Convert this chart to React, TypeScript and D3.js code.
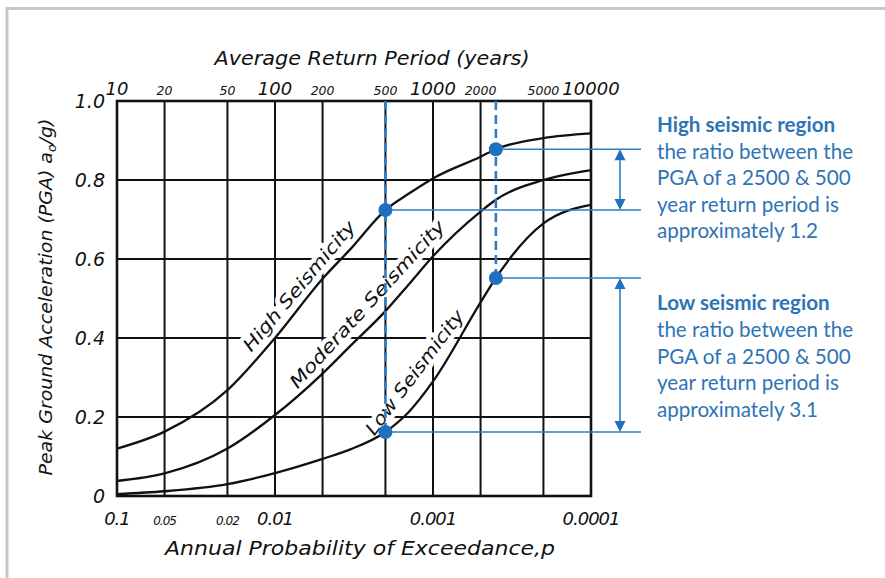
import React from "react";
import * as d3 from "d3";

// ---- data ----
const returnPeriods = [10, 20, 50, 100, 200, 300, 500, 700, 1000, 2000, 2500, 5000, 10000];
const highSeismicity = [0.12, 0.163, 0.268, 0.4, 0.55, 0.625, 0.724, 0.765, 0.804, 0.859, 0.878, 0.906, 0.918];
const moderateSeismicity = [0.038, 0.057, 0.12, 0.205, 0.31, 0.38, 0.468, 0.535, 0.607, 0.72, 0.75, 0.8, 0.825];
const lowSeismicity = [0.005, 0.012, 0.03, 0.058, 0.094, 0.118, 0.162, 0.212, 0.29, 0.49, 0.552, 0.69, 0.737];
const seriesNames = ["High Seismicity", "Moderate Seismicity", "Low Seismicity"];

const topTickValues = [10, 20, 50, 100, 200, 500, 1000, 2000, 5000, 10000];
const topTickLabels = ["10", "20", "50", "100", "200", "500", "1000", "2000", "5000", "10000"];
const gridReturnPeriods = [20, 50, 100, 200, 500, 1000, 2000, 5000];
const probTickValues = [0.1, 0.05, 0.02, 0.01, 0.001, 0.0001];
const probTickLabels = ["0.1", "0.05", "0.02", "0.01", "0.001", "0.0001"];
const pgaTickValues = [0, 0.2, 0.4, 0.6, 0.8, 1.0];
const pgaTickLabels = ["0", "0.2", "0.4", "0.6", "0.8", "1.0"];
const markerPeriods = [500, 2500];

const highNote = [
  "High seismic region",
  "the ratio between the",
  "PGA of a 2500 & 500",
  "year return period is",
  "approximately 1.2",
];
const lowNote = [
  "Low seismic region",
  "the ratio between the",
  "PGA of a 2500 & 500",
  "year return period is",
  "approximately 3.1",
];

// ---- layout ----
const W = 885;
const H = 578;
const plot = { left: 117, right: 591, top: 101, bottom: 496 };
const BLUE_LINE = "#2F7CC4";
const BLUE_DOT = "#1F70BF";
const BLUE_TEXT = "#2E74B5";
const INK = "#111";
const HAND = "'DejaVu Sans', sans-serif";

const labelPlacement = [
  { t: 142, v: 0.532, angle: -50, len: 164 },
  { t: 383, v: 0.486, angle: -47.5, len: 220 },
  { t: 764, v: 0.313, angle: -53, len: 151 },
];

export default function App() {
  const x = d3.scaleLog().domain([10, 10000]).range([plot.left, plot.right]);
  const xp = d3.scaleLog().domain([0.1, 0.0001]).range([plot.left, plot.right]);
  const y = d3.scaleLinear().domain([0, 1]).range([plot.bottom, plot.top]);

  const line = d3
    .line<number>()
    .x((_, i) => x(returnPeriods[i]))
    .y((d) => y(d))
    .curve(d3.curveMonotoneX);

  const series = [highSeismicity, moderateSeismicity, lowSeismicity];
  const valAt = (s: number[], t: number) => s[returnPeriods.indexOf(t)];

  const annX1 = 641;
  const arrowX = 620;

  const isBig = (lab: string) => /^10+$/.test(lab);

  const arrow = (y1: number, y2: number) => {
    const a = 11;
    const w = 5.5;
    return (
      <g>
        <line x1={arrowX} x2={arrowX} y1={y1 + a} y2={y2 - a} stroke={BLUE_LINE} strokeWidth={1.6} />
        <path d={`M${arrowX},${y1} L${arrowX - w},${y1 + a} L${arrowX + w},${y1 + a} Z`} fill={BLUE_DOT} />
        <path d={`M${arrowX},${y2} L${arrowX - w},${y2 - a} L${arrowX + w},${y2 - a} Z`} fill={BLUE_DOT} />
      </g>
    );
  };

  const hi500 = y(valAt(highSeismicity, 500));
  const hi2500 = y(valAt(highSeismicity, 2500));
  const lo500 = y(valAt(lowSeismicity, 500));
  const lo2500 = y(valAt(lowSeismicity, 2500));

  return (
    <div style={{ position: "absolute", left: 0, top: 0 }}>
      <svg width={W} height={H} style={{ display: "block", background: "#fff" }}>
        {/* page frame */}
        <line x1={6} x2={W} y1={8.5} y2={8.5} stroke="#c8c8c8" strokeWidth={3} />
        <line x1={7} x2={7} y1={7} y2={H} stroke="#c8c8c8" strokeWidth={3} />

        {/* grid */}
        {gridReturnPeriods.map((t) => (
          <line key={"gv" + t} x1={x(t)} x2={x(t)} y1={plot.top} y2={plot.bottom} stroke={INK} strokeWidth={2} />
        ))}
        {pgaTickValues
          .filter((v) => v > 0 && v < 1)
          .map((v) => (
            <line key={"gh" + v} x1={plot.left} x2={plot.right} y1={y(v)} y2={y(v)} stroke={INK} strokeWidth={2} />
          ))}

        {/* curve labels with white halo (interrupts grid) */}
        {seriesNames.map((name, i) => {
          const p = labelPlacement[i];
          return (
            <text
              key={name}
              transform={`translate(${x(p.t)},${y(p.v)}) rotate(${p.angle})`}
              textAnchor="middle"
              dy="0.35em"
              fontFamily={HAND}
              fontStyle="italic"
              fontSize={18}
              textLength={p.len}
              lengthAdjust="spacingAndGlyphs"
              fill={INK}
              stroke="#fff"
              strokeWidth={9}
              paintOrder="stroke"
              strokeLinejoin="round"
            >
              {name}
            </text>
          );
        })}

        {/* curves */}
        {series.map((s, i) => (
          <path key={"c" + i} d={line(s) || ""} fill="none" stroke={INK} strokeWidth={2.3} />
        ))}

        {/* frame */}
        <rect
          x={plot.left}
          y={plot.top}
          width={plot.right - plot.left}
          height={plot.bottom - plot.top}
          fill="none"
          stroke={INK}
          strokeWidth={2.6}
        />

        {/* top axis */}
        {topTickValues.map((t, i) => (
          <text
            key={"tt" + t}
            x={x(t)}
            y={95}
            textAnchor="middle"
            fontFamily={HAND}
            fontStyle="italic"
            fontSize={isBig(topTickLabels[i]) ? 18 : 12.5}
            fill={INK}
          >
            {topTickLabels[i]}
          </text>
        ))}
        <text x={372} y={65} textAnchor="middle" fontFamily={HAND} fontStyle="italic" fontSize={19} textLength={315} lengthAdjust="spacingAndGlyphs" fill={INK}>
          Average Return Period (years)
        </text>

        {/* bottom axis */}
        {probTickValues.map((p, i) => (
          <text
            key={"bt" + p}
            x={xp(p)}
            y={525}
            textAnchor="middle"
            fontFamily={HAND}
            fontStyle="italic"
            fontSize={probTickLabels[i].length === 4 && p > 0.01 ? 12 : 18}
            fill={INK}
            letterSpacing={-1}
          >
            {probTickLabels[i]}
          </text>
        ))}
        <text x={360} y={555} textAnchor="middle" fontFamily={HAND} fontStyle="italic" fontSize={19} textLength={390} lengthAdjust="spacingAndGlyphs" fill={INK}>
          Annual Probability of Exceedance,p
        </text>

        {/* left axis */}
        {pgaTickValues.map((v, i) => (
          <text
            key={"yl" + v}
            x={105}
            y={y(v) + 7}
            textAnchor="end"
            fontFamily={HAND}
            fontStyle="italic"
            fontSize={19}
            fill={INK}
          >
            {pgaTickLabels[i]}
          </text>
        ))}
        <text
          transform={`translate(52,${297}) rotate(-90)`}
          textAnchor="middle"
          fontFamily={HAND}
          fontStyle="italic"
          fontSize={18}
          textLength={357}
          lengthAdjust="spacingAndGlyphs"
          fill={INK}
        >
          Peak Ground Acceleration (PGA) a<tspan fontSize={12} dy={4}>o</tspan>
          <tspan dy={-4}>/g)</tspan>
        </text>

        {/* blue annotation: dashed verticals */}
        {markerPeriods.map((t) => (
          <line
            key={"dv" + t}
            x1={x(t)}
            x2={x(t)}
            y1={plot.top}
            y2={y(valAt(lowSeismicity, t))}
            stroke={BLUE_LINE}
            strokeWidth={2.6}
            strokeDasharray="9,5"
          />
        ))}
        {/* horizontal leaders */}
        {[
          [500, hi500],
          [2500, hi2500],
          [2500, lo2500],
          [500, lo500],
        ].map(([t, yy], i) => (
          <line key={"hl" + i} x1={x(t)} x2={annX1} y1={yy} y2={yy} stroke={BLUE_LINE} strokeWidth={1.6} />
        ))}
        {/* dots */}
        {markerPeriods.flatMap((t) =>
          [highSeismicity, lowSeismicity].map((s, j) => (
            <circle key={"d" + t + j} cx={x(t)} cy={y(valAt(s, t))} r={7} fill={BLUE_DOT} />
          ))
        )}
        {arrow(hi2500, hi500)}
        {arrow(lo2500, lo500)}

        {/* notes */}
        <g fontFamily="Lato, 'Open Sans', sans-serif" fontSize={20.6} fill={BLUE_TEXT}>
          {highNote.map((s, i) => (
            <text key={"hn" + i} x={657} y={132 + i * 26.6} fontWeight={i === 0 ? "bold" : "normal"}>
              {s}
            </text>
          ))}
          {lowNote.map((s, i) => (
            <text key={"ln" + i} x={657} y={310 + i * 26.8} fontWeight={i === 0 ? "bold" : "normal"}>
              {s}
            </text>
          ))}
        </g>
      </svg>
    </div>
  );
}
